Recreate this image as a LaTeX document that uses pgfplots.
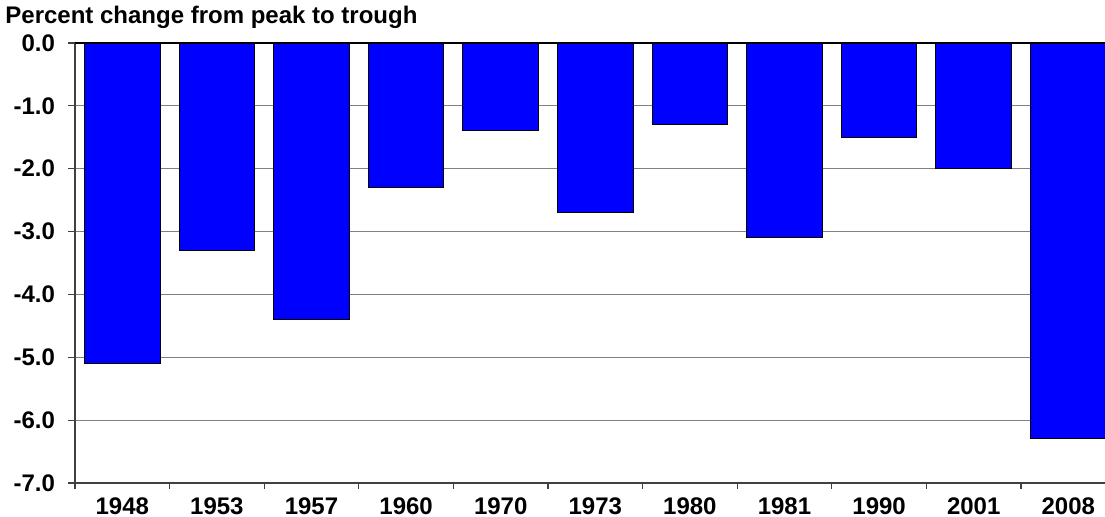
\documentclass[border=0pt]{standalone}
\usepackage{pgfplots}
\pgfplotsset{compat=1.18}
\usepackage{fontspec}
\setmainfont{Liberation Sans}
\usetikzlibrary{calc}

\definecolor{barblue}{HTML}{0000FF}
\definecolor{gridgray}{HTML}{808080}

\pgfplotstableread{
idx year change
0 1948 -5.1
1 1953 -3.3
2 1957 -4.4
3 1960 -2.3
4 1970 -1.4
5 1973 -2.7
6 1980 -1.3
7 1981 -3.1
8 1990 -1.5
9 2001 -2.0
10 2008 -6.3
}\recessions

\begin{document}
\begin{tikzpicture}
\begin{axis}[
    scale only axis,
    width=520.3pt,
    height=220pt,
    xmin=-0.5, xmax=10.5,
    ymin=-7, ymax=0,
    axis lines*=left,
    axis line style={black!75, line width=0.8pt},
    xtick={0,...,10},
    xticklabels={1948,1953,1957,1960,1970,1973,1980,1981,1990,2001,2008},
    major x tick style={draw=none},
    minor xtick={-0.5,0.5,...,10.5},
    minor tick length=3pt,
    ytick={-7,-6,...,0},
    major tick length=3.5pt,
    tick align=outside,
    tick style={black!75, line width=0.6pt},
    ymajorgrids,
    major grid style={gridgray, line width=0.6pt},
    /pgf/number format/assume math mode=true,
    yticklabel style={/pgf/number format/fixed, /pgf/number format/fixed zerofill,
        /pgf/number format/precision=1, xshift=-3pt},
    xticklabel style={inner sep=0pt, yshift=-3.5pt},
    tick label style={font=\fontsize{12}{14}\selectfont\bfseries},
    clip=false,
]
\addplot[ybar, bar width=0.8, fill=barblue, draw=black, line width=0.5pt]
    table[x=idx, y=change] {\recessions};
\draw[black, line width=1.3pt] (axis cs:-0.5,0) -- (axis cs:10.5,0);
\end{axis}
\node[anchor=north west, font=\fontsize{12}{14}\selectfont\bfseries, inner sep=0pt]
    at ($(current axis.north west)+(-35pt,18.5pt)$) {Percent change from peak to trough};
\pgfresetboundingbox
\useasboundingbox ($(current axis.south west)+(-37.5pt,-17pt)$) rectangle ($(current axis.north west)+(515pt,21.5pt)$);
\end{tikzpicture}
\end{document}
